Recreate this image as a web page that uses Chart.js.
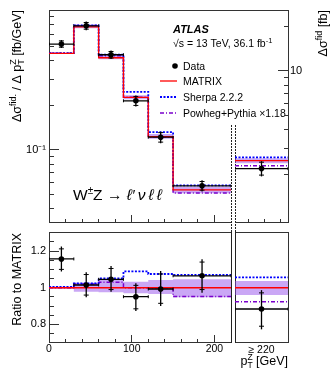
<!DOCTYPE html>
<html>
<head>
<meta charset="utf-8">
<title>WZ pT(Z)</title>
<script src="https://cdn.jsdelivr.net/npm/chart.js@4.4.1/dist/chart.umd.min.js"></script>
<style>
  html, body { margin: 0; padding: 0; background: #fff; }
  #wrap { position: relative; width: 332px; height: 375px; overflow: hidden; }
  #wrap canvas { position: absolute; left: 0; top: 0; }
</style>
</head>
<body>
<div id="wrap">
  <canvas id="topMain" width="332" height="375"></canvas>
  <canvas id="topOvf" width="332" height="375"></canvas>
  <canvas id="ratioMain" width="332" height="375"></canvas>
  <canvas id="ratioOvf" width="332" height="375"></canvas>
</div>
<script>
// pT(Z) bins in GeV; the last entry of each series below is the >= 220 GeV bin
const binEdges = [0, 30, 60, 90, 120, 150, 220];
const binCenters = [15, 45, 75, 105, 135, 185];
const ovfEdges = [0, 1];
const ovfCenters = [0.5];

// top panel: fb/GeV for the 6 bins, fb for the overflow bin (right axis)
const dataXsec    = [0.52, 0.69, 0.44, 0.215, 0.122, 0.0572, 2.19];
const dataTotLo   = [0.488, 0.645, 0.412, 0.197, 0.111, 0.0525, 1.94];
const dataTotHi   = [0.553, 0.737, 0.470, 0.233, 0.133, 0.0625, 2.46];
const dataStatLo  = [0.495, 0.655, 0.418, 0.200, 0.113, 0.0535, 1.98];
const dataStatHi  = [0.546, 0.727, 0.463, 0.230, 0.131, 0.0612, 2.42];
const matrixXsec  = [0.45, 0.68, 0.42, 0.227, 0.123, 0.0537, 2.48];
const matrixLo    = [0.447, 0.665, 0.41, 0.22, 0.119, 0.0510, 2.38];
const matrixHi    = [0.453, 0.698, 0.437, 0.234, 0.128, 0.0562, 2.57];
const sherpaXsec  = [0.452, 0.696, 0.441, 0.247, 0.132, 0.0576, 2.61];
const powhegXsec  = [0.45, 0.693, 0.433, 0.227, 0.123, 0.0512, 2.29];

// ratio panel
const ratioData    = [1.157, 1.015, 1.046, 0.951, 0.993, 1.065, 0.884];
const ratioTotLo   = [1.088, 0.948, 0.978, 0.873, 0.900, 0.973, 0.773];
const ratioTotHi   = [1.225, 1.084, 1.118, 1.024, 1.091, 1.155, 0.987];
const ratioStatLo  = [1.100, 0.960, 0.990, 0.885, 0.915, 0.990, 0.790];
const ratioStatHi  = [1.212, 1.072, 1.105, 1.013, 1.075, 1.140, 0.972];
const ratioMatrix  = [1, 1, 1, 1, 1, 1, 1];
const ratioBandLo  = [0.993, 0.978, 0.975, 0.970, 0.966, 0.948, 0.960];
const ratioBandHi  = [1.007, 1.027, 1.042, 1.033, 1.042, 1.046, 1.037];
const ratioSherpa  = [1.004, 1.024, 1.051, 1.089, 1.075, 1.070, 1.057];
const ratioPowheg  = [1.000, 1.020, 1.030, 1.000, 1.000, 0.952, 0.924];

// tick positions
const xTicks = [0, 20, 40, 60, 80, 100, 120, 140, 160, 180, 200];
const xMajor = [0, 100, 200];
const xsecTicks = [0.04, 0.05, 0.06, 0.07, 0.08, 0.09, 0.1, 0.2, 0.3, 0.4, 0.5, 0.6, 0.7, 0.8];
const xsecMajor = [0.1];
const ovfTicks = [2, 3, 4, 5, 6, 7, 8, 9, 10, 20];
const ovfMajor = [10];
const ovfXTicks = [0.25, 0.55, 0.85];
const ratioTicks = [0.75, 0.8, 0.85, 0.9, 0.95, 1, 1.05, 1.1, 1.15, 1.2, 1.25];
const ratioMajor = [0.8, 1, 1.2];

const FONT = '"Liberation Sans", Arial, Helvetica, sans-serif';
const BAND = 'rgba(150, 80, 235, 0.5)';
const FRAME = '#333';
Chart.defaults.font.family = FONT;
Chart.defaults.color = '#000';

// one axis per side; minor ticks are shortened with a dash pattern
function mkAxis(o) {
  const len = o.len || 0;
  const minor = o.minorLen || len;
  const major = o.major || [];
  const fromBorder = o.pos === 'bottom' || o.pos === 'right';
  const minorDash = fromBorder ? [minor, 100] : [0, len - minor, minor, 100];
  const ax = {
    type: o.type || 'linear',
    position: o.pos,
    min: o.min, max: o.max,
    afterBuildTicks: a => { a.ticks = (o.vals || []).map(v => ({ value: v })); },
    afterFit: a => {
      const b = o.box || 0;
      if (a.isHorizontal()) a.height = b; else a.width = b;
      a.paddingTop = a.paddingBottom = a.paddingLeft = a.paddingRight = 0;
    },
    grid: {
      drawOnChartArea: false, drawTicks: len > 0, tickLength: -len, tickColor: FRAME, tickWidth: 1,
      tickBorderDash: c => (c.tick && major.indexOf(c.tick.value) < 0 ? minorDash : [])
    },
    border: { display: !o.noBorder, color: o.dash ? '#222' : FRAME, width: 1, dash: o.dash || [] },
    ticks: { display: false, autoSkip: false, maxRotation: 0, minRotation: 0 }
  };
  if (o.cb) Object.assign(ax.ticks, { display: true, callback: o.cb, padding: o.pad, font: { size: o.size || 10.5 }, color: '#000' });
  return ax;
}

function panelSets(edges, centers, s, xId, yId) {
  const step = vals => vals.flatMap((v, i) => [{ x: edges[i], y: v }, { x: edges[i + 1], y: v }]);
  const hbar = vals => vals.flatMap((v, i) => [{ x: edges[i], y: v }, { x: edges[i + 1], y: v }, { x: edges[i + 1], y: null }]);
  const vbar = (lo, hi) => centers.flatMap((c, i) => [{ x: c, y: lo[i] }, { x: c, y: hi[i] }, { x: c, y: null }]);
  const pts = vals => centers.map((c, i) => ({ x: c, y: vals[i] }));
  const base = { xAxisID: xId, yAxisID: yId, pointRadius: 0, fill: false, tension: 0, spanGaps: false };
  const clear = 'rgba(0,0,0,0)';
  return [
    { ...base, data: pts(s.data), showLine: false, pointRadius: 2.8, pointBackgroundColor: '#000', pointBorderColor: '#000', pointBorderWidth: 0 },
    { ...base, data: [...pts(s.statLo), ...pts(s.statHi)], showLine: false, pointStyle: 'line', pointRadius: 2.5, pointBorderColor: '#000', pointBorderWidth: 1 },
    { ...base, data: vbar(s.lo, s.hi), borderColor: '#000', borderWidth: 1.3 },
    { ...base, data: hbar(s.data), borderColor: '#000', borderWidth: 1.3, pointStyle: 'line', pointRotation: 90, pointRadius: 1.5, pointBorderColor: '#000', pointBorderWidth: 1 },
    { ...base, data: step(s.matrix), borderColor: '#ff0000', borderWidth: 1.3 },
    { ...base, data: step(s.sherpa), borderColor: '#0000ff', borderWidth: 1.8, borderDash: [2, 1.5] },
    { ...base, data: step(s.powheg), borderColor: '#7a00cc', borderWidth: 1.5, borderDash: [4, 2, 1, 2] },
    { ...base, data: step(s.bandHi), borderColor: clear, borderWidth: 1, fill: '+1', backgroundColor: BAND },
    { ...base, data: step(s.bandLo), borderColor: clear, borderWidth: 1 }
  ];
}

function pick(arrays, from, to) {
  const out = {};
  Object.keys(arrays).forEach(k => { out[k] = arrays[k].slice(from, to); });
  return out;
}

const topSeries = { data: dataXsec, lo: dataTotLo, hi: dataTotHi, statLo: dataStatLo, statHi: dataStatHi,
  matrix: matrixXsec, sherpa: sherpaXsec, powheg: powhegXsec, bandLo: matrixLo, bandHi: matrixHi };
const ratioSeries = { data: ratioData, lo: ratioTotLo, hi: ratioTotHi, statLo: ratioStatLo, statHi: ratioStatHi,
  matrix: ratioMatrix, sherpa: ratioSherpa, powheg: ratioPowheg, bandLo: ratioBandLo, bandHi: ratioBandHi };

// rich text: parts drawn one after another, 'over' stacks on the previous part
function rich(ctx, x, y, parts, align) {
  const f = p => `${p.it ? 'italic ' : ''}${p.b ? 'bold ' : ''}${p.s}px ${FONT}`;
  const lay = [];
  let cur = 0, prevX = 0, prevW = 0;
  parts.forEach(p => {
    ctx.font = f(p);
    const w = ctx.measureText(p.t).width;
    if (p.over) { lay.push({ p, x: prevX }); cur = prevX + Math.max(prevW, w); prevW = Math.max(prevW, w); }
    else { lay.push({ p, x: cur }); prevX = cur; prevW = w; cur += w; }
  });
  const off = align === 'right' ? -cur : align === 'center' ? -cur / 2 : 0;
  ctx.textBaseline = 'alphabetic';
  ctx.textAlign = 'left';
  ctx.fillStyle = '#000';
  lay.forEach(l => { ctx.font = f(l.p); ctx.fillText(l.p.t, x + off + l.x, y + (l.p.dy || 0)); });
}

function vrich(ctx, x, y, parts) {
  ctx.save();
  ctx.translate(x, y);
  ctx.rotate(-Math.PI / 2);
  rich(ctx, 0, 0, parts, 'right');
  ctx.restore();
}

function textPlugin(id, fn) {
  return { id, afterDraw(chart) { const ctx = chart.ctx; ctx.save(); fn(ctx, chart); ctx.restore(); } };
}

function mkChart(id, pad, scales, datasets, plugins) {
  return new Chart(document.getElementById(id), {
    type: 'line',
    data: { datasets },
    options: {
      responsive: false, animation: false, events: [], devicePixelRatio: 1,
      layout: { padding: pad },
      plugins: { legend: { display: false }, tooltip: { enabled: false } },
      scales
    },
    plugins: plugins || []
  });
}

// ---- top panel, 0-220 GeV
mkChart('topMain', { left: 0, right: 101, top: 10, bottom: 153 }, {
  x:  mkAxis({ pos: 'bottom', min: 0, max: 220, vals: xTicks, major: xMajor, len: 7, minorLen: 4 }),
  xT: mkAxis({ pos: 'top', min: 0, max: 220 }),
  y:  mkAxis({ pos: 'left', type: 'logarithmic', min: 0.0326, max: 0.883, vals: xsecTicks, major: xsecMajor, len: 10, minorLen: 5,
               cb: v => (v === 0.1 ? '10\u207B\u00B9' : ''), pad: 13, size: 11, box: 49 })
}, panelSets(binEdges, binCenters, pick(topSeries, 0, 6), 'x', 'y'), [
  textPlugin('topText', (ctx, chart) => {
    vrich(ctx, 21, 10, [{ t: 'Δσ', s: 12.5 }, { t: 'fid.', s: 9, dy: -5 }, { t: ' / Δ p', s: 12.5 },
      { t: 'Z', s: 9, dy: -5 }, { t: 'T', s: 9, dy: 3, over: true }, { t: ' [fb/GeV]', s: 12.5 }]);
    rich(ctx, 173, 33, [{ t: 'ATLAS', s: 11, b: 1, it: 1 }]);
    rich(ctx, 173, 47, [{ t: '√s = 13 TeV, 36.1 fb', s: 10.5 }, { t: '-1', s: 7.5, dy: -4 }]);
    // legend
    ctx.fillStyle = '#000';
    ctx.beginPath(); ctx.arc(175, 66, 2.8, 0, Math.PI * 2); ctx.fill();
    const rows = [['#ff0000', 1.3, [], 81], ['#0000ff', 1.8, [2, 1.5], 97], ['#7a00cc', 1.5, [4, 2, 1, 2], 113]];
    rows.forEach(r => {
      ctx.strokeStyle = r[0]; ctx.lineWidth = r[1]; ctx.setLineDash(r[2]);
      ctx.beginPath(); ctx.moveTo(160, r[3]); ctx.lineTo(177, r[3]); ctx.stroke();
    });
    ctx.setLineDash([]);
    rich(ctx, 183, 70, [{ t: 'Data', s: 10.5 }]);
    rich(ctx, 183, 85, [{ t: 'MATRIX', s: 10.5 }]);
    rich(ctx, 183, 101, [{ t: 'Sherpa 2.2.2', s: 10.5 }]);
    rich(ctx, 183, 117, [{ t: 'Powheg+Pythia ×1.18', s: 10.5 }]);
    rich(ctx, 73, 200, [{ t: 'W', s: 15.5 }, { t: '±', s: 10, dy: -6 }, { t: 'Z \u2192 ', s: 15.5 },
      { t: 'ℓ′\u2009ν\u2009ℓ\u2009ℓ', s: 15.5, it: 1 }]);
    // top frame across the gap, dotted separators below the legend
    const a = chart.chartArea;
    ctx.strokeStyle = FRAME; ctx.lineWidth = 1;
    ctx.beginPath(); ctx.moveTo(a.right, a.top + 0.5); ctx.lineTo(a.right + 5, a.top + 0.5); ctx.stroke();
    ctx.strokeStyle = '#222'; ctx.setLineDash([2, 1]);
    [a.right + 0.5, a.right + 4.5].forEach(x => {
      ctx.beginPath(); ctx.moveTo(x, 125); ctx.lineTo(x, a.bottom + 10); ctx.stroke();
    });
  })
]);

// ---- top panel, overflow bin (fb, right axis)
mkChart('topOvf', { left: 235, right: 0, top: 10, bottom: 153 }, {
  x:  mkAxis({ pos: 'bottom', min: 0, max: 1, vals: ovfXTicks, len: 4 }),
  xT: mkAxis({ pos: 'top', min: 0, max: 1 }),
  y:  mkAxis({ pos: 'right', type: 'logarithmic', min: 0.955, max: 25.8, vals: ovfTicks, major: ovfMajor, len: 10, minorLen: 5,
               cb: v => (v === 10 ? '10' : ''), pad: 12, size: 11, box: 44 })
}, panelSets(ovfEdges, ovfCenters, pick(topSeries, 6, 7), 'x', 'y'), [
  textPlugin('ovfText', ctx => {
    vrich(ctx, 327, 10, [{ t: 'Δσ', s: 12.5 }, { t: 'fid', s: 9, dy: -5 }, { t: ' [fb]', s: 12.5 }]);
  })
]);

// ---- ratio panel, 0-220 GeV
mkChart('ratioMain', { left: 0, right: 101, top: 232, bottom: 0 }, {
  x:  mkAxis({ pos: 'bottom', min: 0, max: 220, vals: xTicks, major: xMajor, len: 7, minorLen: 4,
               cb: v => (xMajor.indexOf(v) >= 0 ? String(v) : ''), pad: 8, size: 10.5, box: 33 }),
  xT: mkAxis({ pos: 'top', min: 0, max: 220 }),
  y:  mkAxis({ pos: 'left', min: 0.704, max: 1.304, vals: ratioTicks, major: ratioMajor, len: 10, minorLen: 5,
               cb: v => (ratioMajor.indexOf(v) < 0 ? '' : v === 1 ? '1' : v.toFixed(1)), pad: 13, size: 11, box: 49 }),
  yR: mkAxis({ pos: 'right', min: 0, max: 1, dash: [2, 1] })
}, panelSets(binEdges, binCenters, pick(ratioSeries, 0, 6), 'x', 'y'), [
  textPlugin('ratioText', ctx => {
    vrich(ctx, 21, 233, [{ t: 'Ratio to MATRIX', s: 12.5 }]);
  })
]);

// ---- ratio panel, overflow bin
mkChart('ratioOvf', { left: 235, right: 44, top: 232, bottom: 0 }, {
  x:  mkAxis({ pos: 'bottom', min: 0, max: 1, vals: ovfCenters, len: 0, cb: () => '≥ 220', pad: 2, size: 10.5, box: 33 }),
  xT: mkAxis({ pos: 'top', min: 0, max: 1 }),
  y:  mkAxis({ pos: 'right', min: 0.704, max: 1.304 }),
  yL: mkAxis({ pos: 'left', min: 0, max: 1, dash: [2, 1] })
}, panelSets(ovfEdges, ovfCenters, pick(ratioSeries, 6, 7), 'x', 'y'), [
  textPlugin('axisText', ctx => {
    rich(ctx, 288, 365, [{ t: 'p', s: 12.5 }, { t: 'Z', s: 8.5, dy: -5 }, { t: 'T', s: 8.5, dy: 3, over: true }, { t: ' [GeV]', s: 12.5 }], 'right');
  })
]);
</script>
</body>
</html>
